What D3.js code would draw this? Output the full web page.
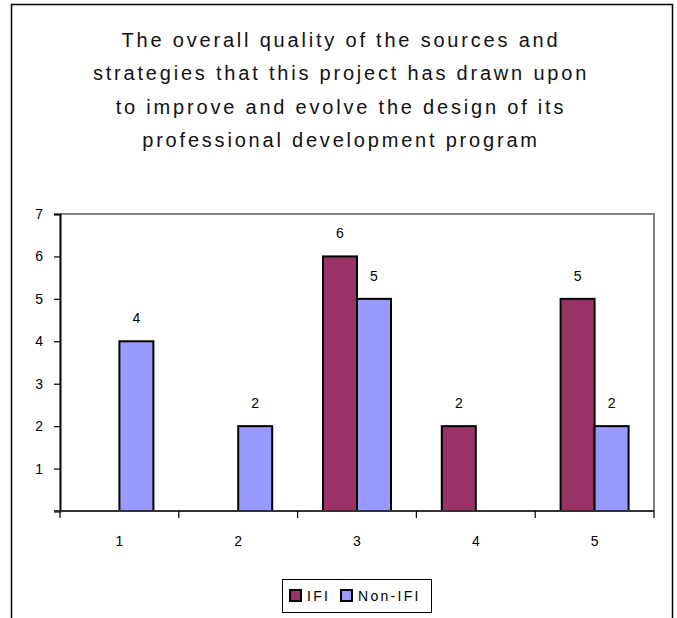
<!DOCTYPE html>
<html>
<head>
<meta charset="utf-8">
<script src="https://cdn.jsdelivr.net/npm/d3@7"></script>
<style>
  html, body { margin: 0; padding: 0; background: #fff; }
  svg { display: block; }
</style>
</head>
<body>
<svg id="chart" width="677" height="618"></svg>
<script>
const categories = ["1", "2", "3", "4", "5"];
const seriesNames = ["IFI", "Non-IFI"];
const ifiValues = [0, 0, 6, 2, 5];
const nonIfiValues = [4, 2, 5, 0, 2];
const yTicks = [0, 1, 2, 3, 4, 5, 6, 7];
const titleLines = [
  "The overall quality of the sources and",
  "strategies that this project has drawn upon",
  "to improve and evolve the design of its",
  "professional development program"
];
const colors = ["#993366", "#9999FF"];

(function () {
const svg = d3.select("#chart");
const font = "'Liberation Sans', Arial, sans-serif";

// outer frame
svg.append("rect")
  .attr("x", 11.5).attr("y", 4.5).attr("width", 661).attr("height", 640)
  .attr("fill", "#fff").attr("stroke", "#000").attr("stroke-width", 1.5);

// title
svg.append("g").selectAll("text").data(titleLines).join("text")
  .attr("x", 341).attr("y", (d, i) => 47 + i * 33.3)
  .attr("text-anchor", "middle")
  .attr("font-family", font).attr("font-size", 20)
  .attr("letter-spacing", 2.8)
  .attr("fill", "#111")
  .text(d => d);

const pL = 60, pR = 654, pT = 214, pB = 511;
const x = d3.scaleBand().domain(categories).range([pL, pR]);
const y = d3.scaleLinear().domain([0, 7]).range([pB, pT]);
const barW = 34;
const xs = d3.scaleBand().domain(seriesNames).range([-barW, barW]);

// plot area border (top/right gray)
svg.append("path")
  .attr("d", `M${pL},${pT}H${pR}V${pB}`)
  .attr("fill", "none").attr("stroke", "#808080").attr("stroke-width", 2);

const data = categories.map((c, i) => ({ cat: c, vals: [ifiValues[i], nonIfiValues[i]] }));

const groups = svg.append("g").selectAll("g").data(data).join("g")
  .attr("transform", d => `translate(${x(d.cat) + x.bandwidth() / 2},0)`);

groups.selectAll("rect")
  .data(d => d.vals.map((v, k) => ({ name: seriesNames[k], v, k })).filter(e => e.v > 0))
  .join("rect")
  .attr("x", e => xs(e.name))
  .attr("y", e => y(e.v))
  .attr("width", xs.bandwidth())
  .attr("height", e => y(0) - y(e.v))
  .attr("fill", e => colors[e.k])
  .attr("stroke", "#000").attr("stroke-width", 2);

groups.selectAll("text")
  .data(d => d.vals.map((v, k) => ({ name: seriesNames[k], v, k })).filter(e => e.v > 0))
  .join("text")
  .attr("x", e => xs(e.name) + xs.bandwidth() / 2)
  .attr("y", e => y(e.v) - 18)
  .attr("text-anchor", "middle")
  .attr("font-family", font).attr("font-size", 14)
  .attr("fill", "#000")
  .text(e => e.v);

// y axis
const yAxis = svg.append("g").attr("transform", `translate(${pL},0)`)
  .call(d3.axisLeft(y).tickValues(yTicks).tickSize(6).tickPadding(11)
    .tickFormat(d => d === 0 ? "" : d));
yAxis.select(".domain").attr("stroke", "#000").attr("stroke-width", 2);
yAxis.selectAll(".tick line").attr("stroke", "#000").attr("stroke-width", 1.2);
yAxis.selectAll("text").attr("font-family", font).attr("font-size", 14).attr("fill", "#000");

// x axis
const xTickPos = d3.range(categories.length + 1).map(i => pL + i * x.step());
const xAxisG = svg.append("g");
xAxisG.append("line").attr("x1", pL - 6).attr("x2", pR).attr("y1", pB).attr("y2", pB)
  .attr("stroke", "#333").attr("stroke-width", 2);
xAxisG.selectAll("line.t").data(xTickPos).join("line").attr("class", "t")
  .attr("x1", d => d).attr("x2", d => d).attr("y1", pB).attr("y2", pB + 7)
  .attr("stroke", "#000").attr("stroke-width", 1.2);
xAxisG.selectAll("text").data(categories).join("text")
  .attr("x", d => x(d) + x.bandwidth() / 2).attr("y", pB + 35)
  .attr("text-anchor", "middle")
  .attr("font-family", font).attr("font-size", 14).attr("fill", "#000")
  .text(d => d);

// legend
const lg = svg.append("g");
lg.append("rect").attr("x", 282.5).attr("y", 579.5).attr("width", 149).attr("height", 33)
  .attr("fill", "#fff").attr("stroke", "#000").attr("stroke-width", 1);
const legendItems = [
  { name: seriesNames[0], color: colors[0], sx: 290, tx: 307 },
  { name: seriesNames[1], color: colors[1], sx: 341, tx: 358 }
];
lg.selectAll("rect.sw").data(legendItems).join("rect").attr("class", "sw")
  .attr("x", d => d.sx).attr("y", 590).attr("width", 11).attr("height", 11)
  .attr("fill", d => d.color).attr("stroke", "#000").attr("stroke-width", 2);
lg.selectAll("text").data(legendItems).join("text")
  .attr("x", d => d.tx).attr("y", 600.5)
  .attr("font-family", font).attr("font-size", 14).attr("letter-spacing", 2.3)
  .attr("fill", "#000")
  .text(d => d.name);
})();
</script>
</body>
</html>
